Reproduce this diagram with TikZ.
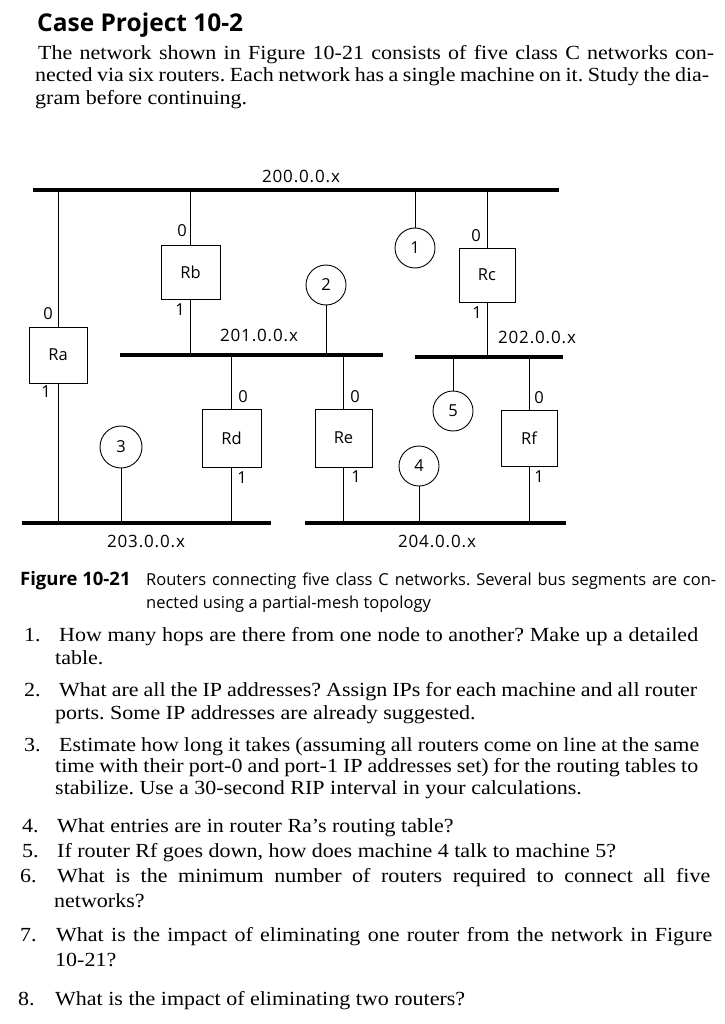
\documentclass[tikz,border=0pt]{standalone}
\usepackage{fontspec}
\usepackage{graphicx}
\setmainfont{Liberation Serif}[FakeStretch=1.1]
\newfontfamily\sansf{Open Sans}
\newfontfamily\sanslab{Open Sans}[LetterSpace=5]
\newcommand\jline[2]{\makebox[#1pt][s]{#2}}
\frenchspacing
\begin{document}
\frenchspacing
\begin{tikzpicture}[x=1pt,y=-1pt,
  bus/.style={rectangle,fill=black,draw=none,inner sep=0pt,minimum height=4.5pt},
  router/.style={rectangle,draw,line width=0.9pt,inner sep=0pt,font=\sansf\fontsize{16.5}{19}\selectfont},
  host/.style={circle,draw,line width=0.9pt,inner sep=0pt,minimum size=40pt,font=\sansf\fontsize{16.5}{19}\selectfont},
  link/.style={line width=0.9pt},
  portlbl/.style={inner sep=0pt,font=\sansf\fontsize{16.5}{19}\selectfont},
  buslbl/.style={inner sep=0pt,font=\sanslab\fontsize{17}{19}\selectfont},
  txt/.style={anchor=base west,inner sep=0pt,font=\fontsize{20}{24}\selectfont},
  captxt/.style={anchor=base west,inner sep=0pt,font=\sansf\fontsize{16.5}{19}\selectfont}]
\useasboundingbox (0,0) rectangle (724,1024);

% heading and intro
\node[anchor=base west,inner sep=0pt,font=\sansf\bfseries\fontsize{24.5}{28}\selectfont] (title) at (37,32) {Case Project 10-2};
\node[txt] (p1) at (38,60) {\jline{676}{The network shown in Figure 10-21 consists of five class C networks con-}};
\node[txt] (p2) at (35,82) {\jline{674}{nected via six routers. Each network has a single machine on it. Study the dia-}};
\node[txt] (p3) at (35,105) {gram before continuing.};

% buses
\node[bus,minimum width=526pt] (b200) at (296,190) {};
\node[bus,minimum width=263pt] (b201) at (251.5,355) {};
\node[bus,minimum width=148pt] (b202) at (489,357) {};
\node[bus,minimum width=249pt] (b203) at (146.5,523) {};
\node[bus,minimum width=261pt] (b204) at (435.5,523) {};

\node[buslbl] (l200) at (301,176) {200.0.0.x};
\node[buslbl] (l201) at (259,335) {201.0.0.x};
\node[buslbl] (l202) at (537,337) {202.0.0.x};
\node[buslbl] (l203) at (146,541) {203.0.0.x};
\node[buslbl] (l204) at (437,541) {204.0.0.x};

% routers
\node[router,minimum width=58pt,minimum height=56pt] (Ra) at (58,355) {Ra};
\node[router,minimum width=59pt,minimum height=54pt] (Rb) at (190.5,272) {Rb};
\node[router,minimum width=56pt,minimum height=54pt] (Rc) at (487,275) {Rc};
\node[router,minimum width=59pt,minimum height=58pt] (Rd) at (231.5,438) {Rd};
\node[router,minimum width=57pt,minimum height=58pt] (Re) at (343.5,438) {Re};
\node[router,minimum width=56pt,minimum height=56pt] (Rf) at (529,438) {Rf};

% hosts
\node[host] (m1) at (415,248) {1};
\node[host] (m2) at (326,285) {2};
\node[host,minimum size=42pt] (m3) at (121,447) {3};
\node[host] (m4) at (419,466) {4};
\node[host] (m5) at (453,411) {5};

% connectors
\draw[link] (Ra.north) -- (Ra.north |- b200.center);
\draw[link] (Ra.south) -- (Ra.south |- b203.center);
\draw[link] (Rb.north) -- (Rb.north |- b200.center);
\draw[link] (Rb.south) -- (Rb.south |- b201.center);
\draw[link] (Rc.north) -- (Rc.north |- b200.center);
\draw[link] (Rc.south) -- (Rc.south |- b202.center);
\draw[link] (Rd.north) -- (Rd.north |- b201.center);
\draw[link] (Rd.south) -- (Rd.south |- b203.center);
\draw[link] (Re.north) -- (Re.north |- b201.center);
\draw[link] (Re.south) -- (Re.south |- b204.center);
\draw[link] (Rf.north) -- (Rf.north |- b202.center);
\draw[link] (Rf.south) -- (Rf.south |- b204.center);
\draw[link] (m1.north) -- (m1.north |- b200.center);
\draw[link] (m2.south) -- (m2.south |- b201.center);
\draw[link] (m3.south) -- (m3.south |- b203.center);
\draw[link] (m4.south) -- (m4.south |- b204.center);
\draw[link] (m5.north) -- (m5.north |- b202.center);

% port labels
\node[portlbl] (a0) at (48,314) {0};
\node[portlbl] (a1) at (46,392) {1};
\node[portlbl] (bp0) at (182,231) {0};
\node[portlbl] (bp1) at (180,310) {1};
\node[portlbl] (c0) at (476,236) {0};
\node[portlbl] (c1) at (477,313) {1};
\node[portlbl] (d0) at (243,397) {0};
\node[portlbl] (d1) at (242,478) {1};
\node[portlbl] (e0) at (355,397) {0};
\node[portlbl] (e1) at (356,477) {1};
\node[portlbl] (f0) at (539,398) {0};
\node[portlbl] (f1) at (539,477) {1};

% caption
\node[captxt,font=\sansf\bfseries\fontsize{18.5}{20}\selectfont] (capfig) at (20,585) {Figure 10-21};
\node[captxt] (cap1) at (146,585) {\jline{570}{Routers connecting five class C networks. Several bus segments are con-}};
\node[captxt] (cap2) at (146,608) {nected using a partial-mesh topology};

% questions
\node[txt] (n1) at (24,641) {1.};
\node[txt] (q1a) at (59,641) {\jline{639}{How many hops are there from one node to another? Make up a detailed}};
\node[txt] (q1b) at (55,664) {table.};
\node[txt] (n2) at (24,696) {2.};
\node[txt] (q2a) at (59,696) {\jline{638}{What are all the IP addresses? Assign IPs for each machine and all router}};
\node[txt] (q2b) at (55,719) {ports. Some IP addresses are already suggested.};
\node[txt] (n3) at (24,751) {3.};
\node[txt] (q3a) at (59,751) {\jline{640}{Estimate how long it takes (assuming all routers come on line at the same}};
\node[txt] (q3b) at (55,772) {\jline{643}{time with their port-0 and port-1 IP addresses set) for the routing tables to}};
\node[txt] (q3c) at (55,794) {stabilize. Use a 30-second RIP interval in your calculations.};
\node[txt] (n4) at (22,832) {4.};
\node[txt] (q4) at (57,832) {What entries are in router Ra’s routing table?};
\node[txt] (n5) at (22,857) {5.};
\node[txt] (q5) at (57,857) {If router Rf goes down, how does machine 4 talk to machine 5?};
\node[txt] (n6) at (20,882) {6.};
\node[txt] (q6a) at (57,882) {\jline{653}{What is the minimum number of routers required to connect all five}};
\node[txt] (q6b) at (54,907) {networks?};
\node[txt] (n7) at (20,941) {7.};
\node[txt] (q7a) at (56,941) {\jline{656}{What is the impact of eliminating one router from the network in Figure}};
\node[txt] (q7b) at (55,966) {10-21?};
\node[txt] (n8) at (18,1005) {8.};
\node[txt] (q8) at (55,1005) {What is the impact of eliminating two routers?};
\end{tikzpicture}
\end{document}
